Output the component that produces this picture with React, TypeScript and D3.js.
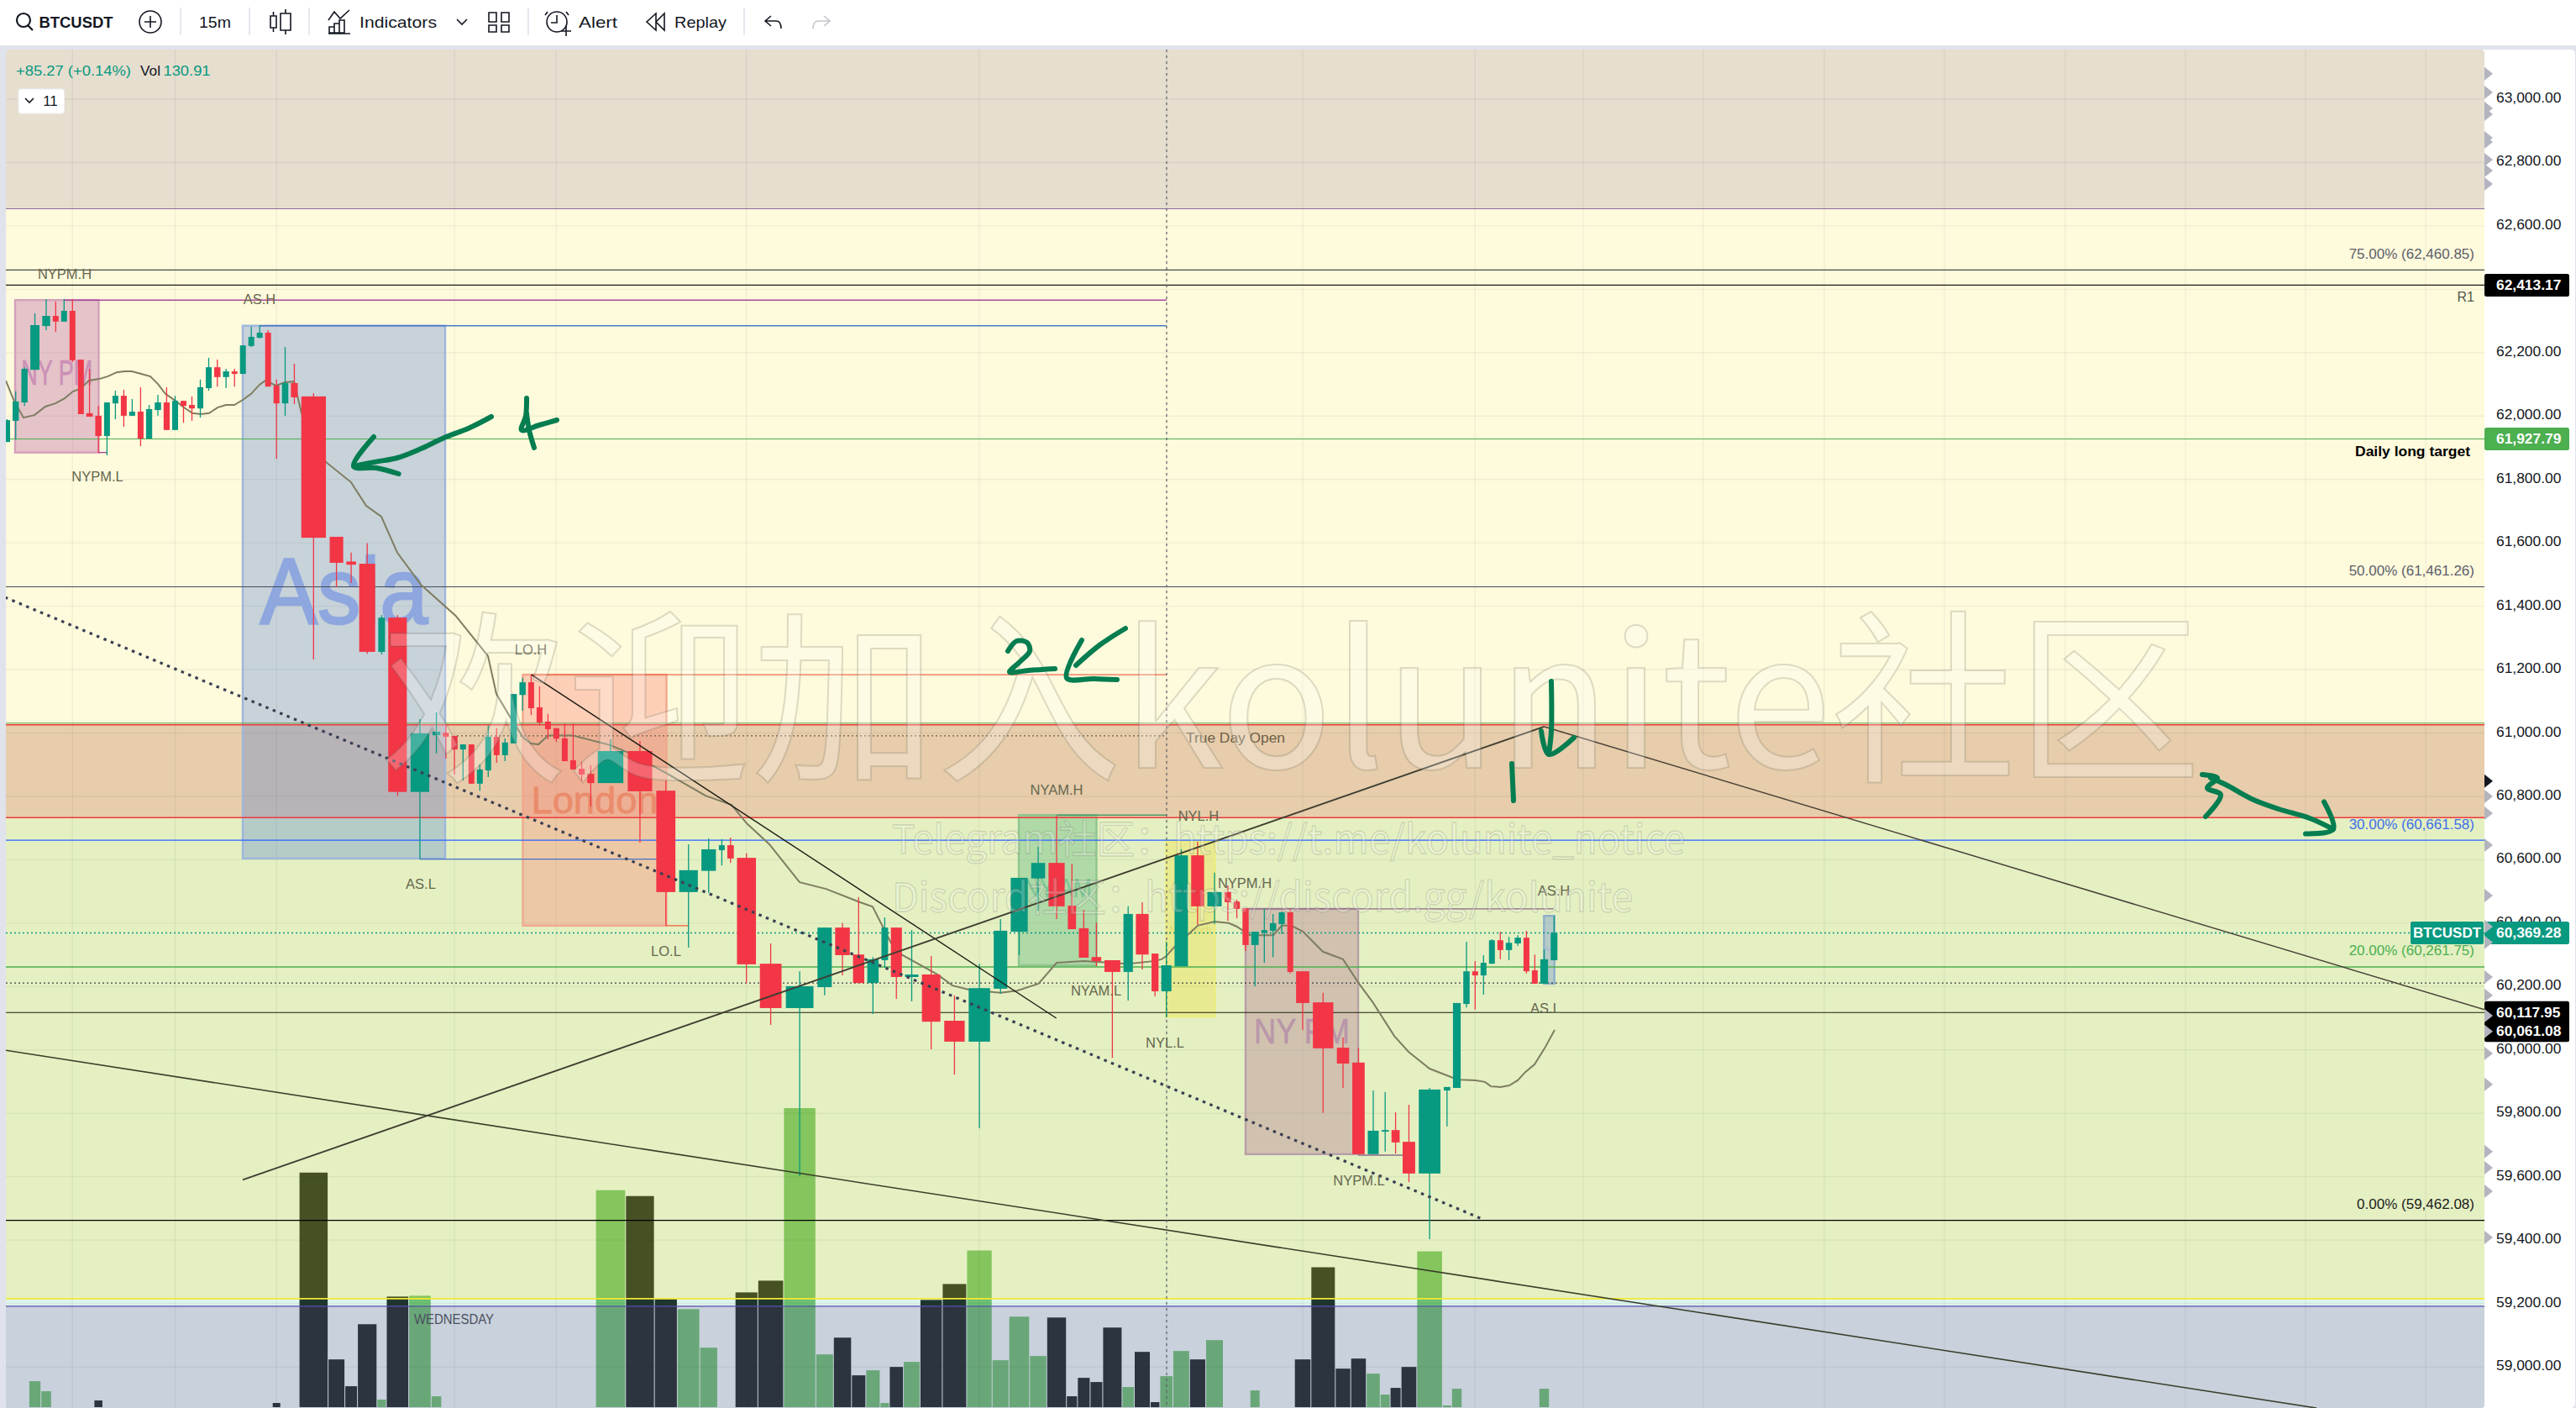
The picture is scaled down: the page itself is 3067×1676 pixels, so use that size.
import * as d3 from 'd3';

// one candle per traded volume slot, 15m BTCUSDT
const opens = [
  61918, 61985, 62043, 62146, 62284, 62316, 62298, 62332, 62178, 62009,
  62001, 61937, 62040, 62064, 62001, 62014, 61929, 62019, 62043, 61956,
  62048, 62035, 62024, 62088, 62154, 62123, 62141, 62133, 62221, 62247,
  62263, 62096, 62040, 62104, 62062, 61619, 61541, 61534, 61256, 61364,
  60814, 60993, 61001, 60991, 60948, 60964, 60840, 60882, 60988, 60930,
  60967, 61120, 61160, 61081, 61036, 61015, 60983, 60914, 60887, 60871,
  60842, 60943, 60818, 60498, 60565, 60630, 60646, 60606, 60272, 60132,
  60198, 60386, 60301, 60211, 60283, 60386, 60230, 60238, 60092, 60026,
  60193, 60373, 60541, 60590, 60455, 60384, 60293, 60283, 60246, 60429,
  60304, 60185, 60264, 60614, 60453, 60498, 60468, 60447, 60331, 60370,
  60376, 60397, 60434, 60248, 60150, 60007, 59960, 59671, 59742, 59747,
  59710, 59610, 59872, 59880, 60145, 60248, 60235, 60272, 60346, 60315,
  60336, 60354, 60251, 60209, 60283,
];
const highs = [
  61990, 62078, 62154, 62324, 62369, 62361, 62369, 62369, 62178, 62149,
  62032, 62043, 62080, 62083, 62054, 62091, 62035, 62067, 62091, 62064,
  62048, 62062, 62115, 62184, 62178, 62149, 62149, 62223, 62282, 62287,
  62271, 62115, 62218, 62165, 62072, 61619, 61569, 61599, 61372, 61372,
  61044, 61065, 61025, 60991, 60964, 60964, 60901, 61023, 61015, 60983,
  61123, 61174, 61184, 61147, 61060, 61015, 61030, 61030, 60909, 60898,
  60980, 60975, 60850, 60649, 60667, 60665, 60670, 60620, 60336, 60248,
  60386, 60400, 60482, 60293, 60418, 60386, 60378, 60296, 60172, 60272,
  60413, 60543, 60641, 60739, 60588, 60442, 60402, 60283, 60453, 60466,
  60304, 60341, 60633, 60657, 60559, 60519, 60474, 60447, 60373, 60445,
  60429, 60437, 60445, 60248, 60180, 60039, 60007, 59872, 59867, 59803,
  59827, 59880, 59883, 60148, 60341, 60280, 60299, 60349, 60373, 60357,
  60362, 60376, 60301, 60317, 60423,
];
const lows = [
  61918, 61926, 62032, 62146, 62271, 62266, 62298, 62170, 62006, 61998,
  61884, 61876, 61990, 61966, 62001, 61905, 61929, 62001, 61956, 61956,
  61979, 61985, 61995, 62080, 62093, 62088, 62093, 62133, 62218, 62245,
  62093, 61865, 62001, 62038, 61232, 61460, 61473, 61250, 61248, 60802,
  60601, 60936, 60919, 60869, 60850, 60840, 60818, 60861, 60906, 60911,
  60967, 61070, 61057, 61025, 60980, 60972, 60911, 60885, 60848, 60769,
  60842, 60654, 60392, 60323, 60495, 60582, 60590, 60211, 60079, 59602,
  60172, 60235, 60211, 60113, 60259, 60161, 60153, 60002, 59922, 59753,
  60177, 60299, 60439, 60413, 60381, 60291, 60264, 59975, 60156, 60254,
  60169, 60103, 60264, 60394, 60397, 60407, 60415, 60312, 60201, 60275,
  60293, 60365, 60241, 60063, 59801, 59880, 59671, 59671, 59679, 59673,
  59583, 59403, 59758, 59880, 60134, 60127, 60174, 60272, 60286, 60283,
  60328, 60241, 60209, 60209, 60283,
];
const closes = [
  61987, 62046, 62149, 62287, 62316, 62298, 62332, 62176, 62006, 61998,
  61937, 62043, 62064, 62001, 62014, 61929, 62022, 62043, 61956, 62048,
  62032, 62024, 62091, 62154, 62123, 62141, 62133, 62223, 62250, 62263,
  62093, 62040, 62104, 62059, 61616, 61537, 61531, 61256, 61364, 60814,
  60999, 61004, 60988, 60948, 60964, 60840, 60885, 60988, 60930, 60970,
  61123, 61160, 61078, 61033, 61012, 60982, 60911, 60885, 60869, 60842,
  60943, 60816, 60498, 60567, 60633, 60646, 60604, 60270, 60132, 60201,
  60386, 60299, 60211, 60286, 60386, 60230, 60238, 60089, 60026, 60195,
  60376, 60543, 60590, 60453, 60381, 60291, 60280, 60246, 60429, 60301,
  60185, 60267, 60614, 60453, 60498, 60466, 60445, 60331, 60373, 60378,
  60400, 60434, 60246, 60148, 60005, 59957, 59671, 59745, 59747, 59708,
  59610, 59875, 59883, 60148, 60248, 60235, 60275, 60346, 60315, 60338,
  60354, 60248, 60209, 60286, 60369.28,
];
// time share of each candle (the chart is volume weighted, so candles differ in width)
const spans = [
  10, 10.4, 10.5, 14.3, 12.6, 10, 10, 10, 10, 10.6,
  10.5, 10, 10, 10, 10, 10, 10.3, 10.6, 10.2, 10,
  10, 10, 10, 10, 10.5, 10.3, 9.9, 10, 10, 10,
  10, 10, 10.6, 11.3, 34.5, 20, 15, 23.2, 11.2, 26.6,
  26.7, 12.5, 10, 10.5, 10, 10, 10, 10, 10, 10,
  10.6, 10.5, 10, 10, 10, 10, 10, 10, 10.2, 11.5,
  35.7, 34.3, 27.3, 26.7, 21.3, 10, 10.8, 27.1, 30.6, 38.4,
  21, 21.5, 17, 17.1, 11, 16.7, 19.8, 26.5, 29, 30.3,
  20, 24.6, 20.5, 23.4, 13.1, 15.1, 15, 23, 14.6, 19,
  11.4, 15.6, 19.8, 19.2, 21, 10.8, 10.5, 10.4, 12, 10.2,
  10.5, 10.3, 10, 19.6, 29, 18.4, 18.5, 16.6, 11.8, 13,
  18.7, 30.6, 10.9, 12.4, 10.6, 10, 10, 10, 10, 10.5,
  10.6, 10, 9.9, 12.4, 11.1,
];
const volumes = [
  0, 0, 0, 31, 19, 0, 0, 0, 0, 0,
  8, 0, 0, 0, 0, 0, 0, 0, 0, 0,
  0, 0, 0, 0, 0, 0, 0, 0, 0, 0,
  0, 5, 0, 0, 280, 57, 25, 99, 9, 132,
  133, 13, 0, 0, 0, 0, 0, 0, 0, 0,
  0, 0, 0, 0, 0, 0, 0, 0, 0, 0,
  259, 252, 129, 117, 71, 0, 0, 137, 151, 357,
  63, 83, 38, 44, 5, 48, 54, 128, 147, 187,
  56, 108, 61, 107, 13, 35, 30, 95, 24, 66,
  6, 37, 67, 57, 80, 0, 0, 0, 20, 0,
  0, 0, 0, 57, 167, 46, 58, 40, 15, 23,
  48, 186, 2, 22, 0, 0, 0, 0, 0, 0,
  0, 0, 0, 22, 0,
];

// moving average
const smaTimes = [
  7, 17, 28, 41, 54, 66, 77, 87, 95, 106, 118, 128, 139, 148, 157, 168, 179, 188, 197, 209,
  219, 229, 239, 249, 259, 269, 279, 289, 299, 309, 316, 329, 339, 350, 359, 388, 418, 436, 454, 473,
  501, 542.5, 581, 591, 607, 623, 632, 641, 652.5, 682, 726.4, 748, 793, 840, 871, 889, 916, 952, 983.5, 1022,
  1039, 1060.6, 1074.5, 1116, 1134, 1153.6, 1191, 1211, 1236.5, 1258, 1290, 1343, 1373, 1383, 1388.6, 1397.5, 1415, 1426, 1446, 1463,
  1472.6, 1488, 1516, 1526, 1537.7, 1551.5, 1575, 1599, 1617.5, 1634.5, 1660, 1677, 1702, 1730, 1739, 1757, 1768, 1775, 1786.4, 1797,
  1807, 1816, 1827, 1839, 1851,
];
const smaValues = [
  62112, 62046, 61995, 62003, 62030, 62040, 62056, 62078, 62085, 62112, 62117, 62125, 62138, 62141, 62141, 62133, 62125, 62101, 62070, 62048,
  62027, 62009, 62006, 62009, 62027, 62035, 62035, 62051, 62070, 62099, 62112, 62096, 62107, 62109, 62009, 61855, 61791, 61717, 61683, 61569,
  61468, 61370, 61243, 61123, 61052, 60985, 60967, 60964, 60992, 60992, 60962, 60938, 60874, 60802, 60773, 60715, 60649, 60529, 60508, 60468,
  60452, 60339, 60299, 60238, 60203, 60190, 60180, 60187, 60209, 60275, 60280, 60272, 60280, 60286, 60296, 60323, 60365, 60392, 60405, 60400,
  60389, 60362, 60362, 60392, 60392, 60373, 60310, 60286, 60211, 60150, 60044, 59994, 59941, 59912, 59906, 59904, 59899, 59885, 59883, 59888,
  59904, 59930, 59954, 60005, 60063,
];

const priceTicks = d3.range(59000, 63001, 200);
const futureGridTimes = [1885, 2028, 2172, 2315, 2459, 2602, 2745, 2888];
const sideMarks = [
  63080, 63021, 62971, 62952, 62878, 62865, 62809, 62775, 62732, 60800, 60747, 60646, 60487, 60389, 60339, 60230, 60172,
  60108, 60058, 59989, 59891, 59679, 59628, 59554, 59408,
];
const darkSideMark = 60848;

// bands from top to bottom
const bandEdges = [63300, 62654, 61026, 60733, 59215, 59191, 58800];

const levels: [number, string, number][] = [
  [62654, '#8a6ba0', 1],
  [62460.85, '#4a4a42', 1.1],
  [62413.17, '#1c1c10', 1.2],
  [61927.79, '#4caf50', 1.2],
  [61461.26, '#454a5e', 1.2],
  [61031, '#5d9c45', 1],
  [61026, '#ee3b3b', 1.4],
  [60733, '#ee3b3b', 1.6],
  [60661.58, '#2962ff', 1.4],
  [60261.75, '#4caf50', 1.4],
  [60117.95, '#1c1c10', 1.2],
  [59462.08, '#000000', 1.2],
  [59215, '#f7e92f', 1.6],
  [59191, '#5a4ea8', 1.3],
];
const lastPrice = 60369.28;
const dayOpenLevel = 60211;
const trueDayOpen = 60991;

const sessionNames = ['NY PM', 'Asia', 'London', 'NY AM', 'NY Lunch', 'NY PM', 'Asia'];
const sessionStarts = [18, 289, 622.5, 1213, 1388.4, 1483, 1838.3];
const sessionEnds = [117.5, 530, 793.5, 1305.5, 1446.5, 1617, 1850.7];
const sessionHighs = [62366, 62285, 61184, 60741, 60657, 60445, 60423];
const sessionLows = [61885, 60604, 60392, 60267, 60105, 59671, 60209];
const sessionLook = [
  { fill: 'rgba(189,112,172,.4)', stroke: '#d4a0bb', text: '#cc90b6', size: 42, base: 458, len: 85, heavy: 0.6 },
  { fill: 'rgba(73,120,213,.3)', stroke: '#9eb6dd', text: '#8ea7de', size: 112, base: 742, len: 200, heavy: 2.4 },
  { fill: 'rgba(255,110,100,.3)', stroke: '#f0a98c', text: '#ea8c6c', size: 44, base: 968, len: 151, heavy: 0.8 },
  { fill: 'rgba(77,174,117,.35)', stroke: '#8fc58f', text: '#7cc496', size: 32, base: 1068, len: 81, heavy: 0 },
  { fill: 'rgba(235,225,70,.4)', stroke: '#ecec80', text: '#dfdc6c', size: 15, base: 1112, len: 50, heavy: 0 },
  { fill: 'rgba(180,125,147,.4)', stroke: '#b89fa7', text: '#b996aa', size: 42, base: 1242, len: 114, heavy: 0.6 },
  { fill: 'rgba(73,120,213,.3)', stroke: '#8fb0c9', text: '#9db4dd', size: 7, base: 1132, len: 10, heavy: 0 },
];
const sessionLines: [number, number, number, string][] = [
  [77, 1389, 62366, '#a94a9c'],
  [117, 128, 61885, '#a94a9c'],
  [309, 1389, 62285, '#4a76c9'],
  [500, 793, 60602, '#4a76c9'],
  [632.5, 1389, 61184, '#f2694a'],
  [793, 820, 60392, '#f2694a'],
  [1258, 1389, 60741, '#4e9a68'],
  [1483, 1850, 60445, '#8d6a8a'],
  [1617, 1670, 59668, '#8d6a8a'],
];

const trendLines: [number, number, number, number, string, number][] = [
  [632.8, 61184, 1257.7, 60100, '#1c1c14', 1.4],
  [289, 59590, 1838.6, 61020, '#3f3d30', 1.9],
  [1838.6, 61020, 2958, 60127, '#4a4238', 1.5],
  [6, 59999, 2758, 58870, '#3a3f2a', 1.6],
];
const dottedTrend: [number, number, number, number] = [6, 61428, 1766, 59465];

const sessionTags: [string, number, number][] = [
  ['NYPM.H', 77, 325.5], ['AS.H', 309, 355.7], ['NYPM.L', 116, 567], ['LO.H', 632, 773], ['AS.L', 501, 1052],
  ['LO.L', 793, 1132], ['NYAM.H', 1258, 940], ['NYAM.L', 1305, 1179], ['NYL.H', 1427, 970.7], ['NYL.L', 1387, 1240.7],
  ['NYPM.H', 1482, 1050.7], ['NYPM.L', 1618, 1404.7], ['AS.H', 1850, 1060], ['AS.L', 1840, 1200],
];
const fibTags: [string, number, string][] = [
  ['75.00% (62,460.85)', 302.4, '#5d606b'],
  ['50.00% (61,461.26)', 679.6, '#5d606b'],
  ['30.00% (60,661.58)', 981.7, '#3f6fe8'],
  ['20.00% (60,261.75)', 1131.7, '#4caf50'],
  ['0.00% (59,462.08)', 1433.7, '#1c1c1c'],
];

// pen strokes drawn by hand over the chart
const penStrokes: [number, number][][] = [
  [[585, 496], [558.6, 509.5], [530, 520.6], [501.4, 534], [473, 545], [448, 549.6], [421, 555]],
  [[445, 520], [421, 555], [448, 557], [474.6, 564]],
  [[627, 474], [626, 495], [621, 512], [642, 506], [663, 500]],
  [[627, 492], [630, 512], [636, 533]],
  [[1200, 775], [1210.5, 763], [1223, 765], [1226, 775], [1214, 788], [1202, 800], [1224.6, 798], [1256, 796]],
  [[1340, 748], [1309, 768], [1281, 792]],
  [[1288, 762], [1270, 807], [1302, 808], [1330, 809]],
  [[1847, 811], [1847, 870], [1844, 898]],
  [[1835, 870], [1844, 898], [1874, 878]],
  [[1800, 909], [1802, 953]],
  [[2622, 922], [2640, 926], [2628, 938], [2644, 946], [2626, 972]],
  [[2632, 926], [2650, 934], [2683, 952], [2713, 963], [2750, 974], [2778, 987]],
  [[2767, 954.5], [2778, 987], [2745, 992.5]],
];

const UI = '"Liberation Sans", Arial, sans-serif';
const UP = '#089981';
const DOWN = '#f23645';
const PANE = { left: 7, top: 59, right: 2958, bottom: 1676 };

const y = d3.scaleLinear().domain([63000, 59000]).range([118, 1627]);
const x = d3.scaleLinear().domain([0, 3067]).range([0, 3067]);
const yVol = d3.scaleLinear().domain([0, 357]).range([1675, 1319]);
const edges = [3.5, ...d3.cumsum(spans).map(v => v + 3.5)];
const centers = spans.map((_, i) => (edges[i] + edges[i + 1]) / 2);
const gridBarTimes = [...centers.filter((_, i) => i % 12 === 7 && i < 117), ...futureGridTimes];
const smaPath = d3.line<number>().x((_, i) => x(smaTimes[i])).y(d => y(d)).curve(d3.curveLinear)(smaValues) ?? '';
const penPath = d3.line<[number, number]>().x(d => d[0]).y(d => d[1]).curve(d3.curveCatmullRom.alpha(0.5));
const priceFormat = d3.format(',.2f');

function Label({ x: px, y: py, size = 17, fill = '#131722', anchor = 'start', weight = 400, len, children }: any) {
  return (
    <text
      x={px}
      y={py}
      fontFamily={UI}
      fontSize={size}
      fill={fill}
      fontWeight={weight}
      textAnchor={anchor}
      dominantBaseline="central"
      {...(len ? { textLength: len, lengthAdjust: 'spacingAndGlyphs' } : {})}
    >
      {children}
    </text>
  );
}

function Toolbar() {
  const ink = { fill: 'none', stroke: '#131722', strokeWidth: 1.6 };
  return (
    <g>
      <rect x={0} y={0} width={3067} height={54} fill="#fff" />
      <circle cx={28} cy={24} r={8} {...ink} strokeWidth={2.2} />
      <line x1={33} y1={30} x2={39} y2={36} {...ink} strokeWidth={2.2} />
      <Label x={46.5} y={26} size={19} weight={700} len={88}>BTCUSDT</Label>
      <circle cx={179} cy={26} r={13} {...ink} />
      <path d="M172 26H186M179 19V33" {...ink} />
      {[215, 297, 368, 629, 886].map(v => (
        <line key={v} x1={v} x2={v} y1={9} y2={42} stroke="#e0e3eb" strokeWidth={1.6} />
      ))}
      <Label x={237} y={26} size={19} len={38}>15m</Label>
      <path d="M322 19H329V33H322ZM334 16H346V36H334ZM340 11V16M340 36V41M325.5 14V19M325.5 33V38" {...ink} />
      <path d="M391 24L398 14L405 22L416 12M392 39V32H398V39ZM398 39V28H404V39ZM404 39V24H410V39ZM391 40H417" {...ink} />
      <Label x={428} y={26} size={19} len={92}>Indicators</Label>
      <path d="M544 23L550 29L556 23" {...ink} />
      <path d="M582 15h9v11h-9zM597 15h9v11h-9zM582 30h9v8h-9zM597 30h9v8h-9z" {...ink} />
      <circle cx={663} cy={26} r={12} {...ink} />
      <path d="M663 18V27H656M652 14L649 18M674 14L677 18M668 37H680M674 31V43" {...ink} />
      <Label x={689} y={26} size={19} len={46}>Alert</Label>
      <path d="M781 16L770 26L781 36ZM791 16L781 26L791 36Z" {...ink} />
      <Label x={803} y={26} size={19} len={62}>Replay</Label>
      <path d="M918 19L911 25L918 31M911 25H924Q930 25 930 34" {...ink} />
      <path d="M981 19L988 25L981 31M988 25H975Q968 25 968 34" {...ink} stroke="#c3c5cc" />
    </g>
  );
}

export default function App() {
  const bandFills = ['#e6decf', '#fefadc', '#e7cdab'];
  return (
    <svg width={3067} height={1676} style={{ display: 'block' }} xmlns="http://www.w3.org/2000/svg">
      <style>{'body{margin:0}'}</style>
      <defs>
        <clipPath id="pane">
          <rect x={PANE.left} y={PANE.top} width={PANE.right - PANE.left} height={PANE.bottom - PANE.top} rx={4} />
        </clipPath>
      </defs>
      <rect width={3067} height={1676} fill="#e0e3eb" />
      <Toolbar />
      <rect x={PANE.left} y={PANE.top} width={3066 - PANE.left} height={PANE.bottom - PANE.top} rx={5} fill="#fff" />

      <g clipPath="url(#pane)">
        {bandFills.map((c, i) => (
          <rect key={c} x={PANE.left} width={PANE.right - PANE.left} y={y(bandEdges[i])} height={y(bandEdges[i + 1]) - y(bandEdges[i])} fill={c} />
        ))}

        {/* volume sits under the lower tint bands */}
        {volumes.map((v, i) =>
          v > 0 ? (
            <rect
              key={i}
              x={x(edges[i]) + 0.5}
              width={x(edges[i + 1]) - x(edges[i]) - 1}
              y={yVol(v)}
              height={yVol(0) - yVol(v)}
              fill={closes[i] >= opens[i] ? '#66bb5d' : '#000'}
            />
          ) : null,
        )}
        <rect x={PANE.left} width={PANE.right - PANE.left} y={y(bandEdges[3])} height={y(bandEdges[4]) - y(bandEdges[3])} fill="rgb(182,214,92)" fillOpacity={0.375} />
        <rect x={PANE.left} width={PANE.right - PANE.left} y={y(bandEdges[4])} height={y(bandEdges[5]) - y(bandEdges[4])} fill="rgb(124,212,184)" fillOpacity={0.25} />
        <rect x={PANE.left} width={PANE.right - PANE.left} y={y(bandEdges[5])} height={y(bandEdges[6]) - y(bandEdges[5])} fill="rgb(112,135,163)" fillOpacity={0.385} />

        {/* grid */}
        {priceTicks.map(p => (
          <line key={p} x1={PANE.left} x2={PANE.right} y1={y(p)} y2={y(p)} stroke="rgba(42,46,57,.06)" strokeWidth={1.4} />
        ))}
        {gridBarTimes.map(t => (
          <line key={t} x1={x(t)} x2={x(t)} y1={PANE.top} y2={PANE.bottom} stroke="rgba(42,46,57,.06)" strokeWidth={1.4} />
        ))}

        {/* session boxes */}
        {sessionNames.map((name, i) => {
          const look = sessionLook[i];
          const x0 = x(sessionStarts[i]);
          const x1 = x(sessionEnds[i]);
          return (
            <g key={i}>
              <rect
                x={x0}
                y={y(sessionHighs[i])}
                width={x1 - x0}
                height={y(sessionLows[i]) - y(sessionHighs[i])}
                fill={look.fill}
                stroke={look.stroke}
                strokeWidth={2.4}
              />
              <text
                x={(x0 + x1) / 2}
                y={look.base}
                textAnchor="middle"
                fontFamily={UI}
                fontSize={look.size}
                fill={look.text}
                stroke={look.text}
                strokeWidth={look.heavy}
                textLength={look.len}
                lengthAdjust="spacingAndGlyphs"
              >
                {name}
              </text>
            </g>
          );
        })}
        {sessionLines.map(([a, b, p, c], i) => (
          <line key={i} x1={x(a)} x2={x(b)} y1={y(p)} y2={y(p)} stroke={c} strokeWidth={1.4} />
        ))}

        {/* levels */}
        {levels.map(([p, c, w]) => (
          <line key={p} x1={PANE.left} x2={PANE.right} y1={y(p)} y2={y(p)} stroke={c} strokeWidth={w} />
        ))}
        <line x1={PANE.left} x2={PANE.right} y1={y(lastPrice)} y2={y(lastPrice)} stroke={UP} strokeWidth={1.6} strokeDasharray="2 3" />
        <line x1={PANE.left} x2={PANE.right} y1={y(dayOpenLevel)} y2={y(dayOpenLevel)} stroke="#3a3f4a" strokeWidth={1.4} strokeDasharray="2 3" />
        <line x1={x(544)} x2={x(1389)} y1={y(trueDayOpen)} y2={y(trueDayOpen)} stroke="#6d5c48" strokeWidth={1.2} strokeDasharray="2 3" />
        <line x1={x(1389)} x2={x(1389)} y1={PANE.top} y2={PANE.bottom} stroke="#5d606b" strokeWidth={1.2} strokeDasharray="3 4" />

        <path d={smaPath} fill="none" stroke="#7e7d60" strokeWidth={2} />

        {/* candles */}
        {opens.map((o, i) => {
          const c = closes[i];
          const color = c >= o ? UP : DOWN;
          const top = y(Math.max(o, c));
          const bottom = y(Math.min(o, c));
          const w = spans[i] * 0.91 - 2.1;
          return (
            <g key={i}>
              <line x1={x(centers[i])} x2={x(centers[i])} y1={y(highs[i])} y2={y(lows[i])} stroke={color} strokeWidth={1.3} />
              <rect x={x(centers[i]) - w / 2} y={top} width={w} height={Math.max(bottom - top, 1.6)} fill={color} />
            </g>
          );
        })}

        {/* trend lines */}
        <line
          x1={x(dottedTrend[0])}
          y1={y(dottedTrend[1])}
          x2={x(dottedTrend[2])}
          y2={y(dottedTrend[3])}
          stroke="#3b3f52"
          strokeWidth={3.2}
          strokeDasharray="3.5 5.6"
        />
        {trendLines.map(([a, p, b, q, c, w], i) => (
          <line key={i} x1={x(a)} y1={y(p)} x2={x(b)} y2={y(q)} stroke={c} strokeWidth={w} />
        ))}

        {/* drawing labels */}
        {sessionTags.map(([t, cx, cy], i) => (
          <Label key={i} x={cx} y={cy} size={16.5} fill="#66664e" anchor="middle">{t}</Label>
        ))}
        <Label x={1412} y={877.7} size={16.5} fill="#6d6048" len={118}>True Day Open</Label>
        <Label x={493} y={1570} size={16} fill="#4b5060" len={95}>WEDNESDAY</Label>
        <Label x={2946} y={353} size={16} fill="#55554a" anchor="end">R1</Label>
        <Label x={2941} y={537} size={16.5} fill="#000" weight={700} anchor="end" len={137}>Daily long target</Label>
        {fibTags.map(([t, cy, c]) => (
          <Label key={t} x={2946} y={cy} size={17} fill={c} anchor="end">{t}</Label>
        ))}

        {/* exchange watermark */}
        <g fontFamily='"Noto Sans CJK SC", sans-serif' fill="rgba(255,255,255,.24)" stroke="rgba(90,90,70,.2)" strokeWidth={2}>
          <text x={454} y={914} fontSize={220} textLength={2167} lengthAdjust="spacingAndGlyphs">欢迎加入kolunite社区</text>
          <text x={1062} y={1015.5} fontSize={47} textLength={944} lengthAdjust="spacingAndGlyphs" strokeWidth={1.3}>Telegram社区：https://t.me/kolunite_notice</text>
          <text x={1062} y={1085} fontSize={47} textLength={882} lengthAdjust="spacingAndGlyphs" strokeWidth={1.3}>Discord社区：https://discord.gg/kolunite</text>
        </g>

        {/* pen annotations */}
        {penStrokes.map((s, i) => (
          <path key={i} d={penPath(s) ?? ''} fill="none" stroke="#047d50" strokeWidth={6} strokeLinecap="round" strokeLinejoin="round" />
        ))}
      </g>

      {/* legend */}
      <Label x={19} y={84.6} size={17} fill={UP} len={137}>+85.27 (+0.14%)</Label>
      <Label x={167} y={84.6} size={17} len={24}>Vol</Label>
      <Label x={194.5} y={84.6} size={17} fill={UP} len={56}>130.91</Label>
      <rect x={22} y={106} width={54.5} height={29} rx={3} fill="#fff" stroke="#eceef2" />
      <path d="M30 117L35 122L40 117" fill="none" stroke="#131722" strokeWidth={1.6} />
      <Label x={60} y={120.5} size={17} anchor="middle">11</Label>

      {/* price scale */}
      {priceTicks.map(p => (
        <Label key={p} x={2972} y={y(p) - 2} size={17.4}>{priceFormat(p)}</Label>
      ))}
      {[[62413.17, '#000'], [61927.79, '#4caf50'], [lastPrice, UP], [60117.95, '#000'], [60061.08, '#000']].map(([p, c]) => (
        <g key={p as number}>
          <rect x={PANE.right} y={y(p as number) - 13.5} width={101} height={27} rx={2.5} fill={c as string} />
          <Label x={2972} y={y(p as number)} size={17.4} fill="#fff" weight={700}>{priceFormat(p as number)}</Label>
        </g>
      ))}
      <rect x={2870} y={y(lastPrice) - 13.5} width={87} height={27} rx={2} fill={UP} />
      <Label x={2913.5} y={y(lastPrice)} size={17} fill="#fff" weight={700} anchor="middle">BTCUSDT</Label>
      {sideMarks.map(p => (
        <path key={p} d={`M${PANE.right} ${y(p) - 8}L${PANE.right + 10} ${y(p)}L${PANE.right} ${y(p) + 8}Z`} fill="#b2b5be" />
      ))}
      <path d={`M${PANE.right} ${y(darkSideMark) - 8}L${PANE.right + 10} ${y(darkSideMark)}L${PANE.right} ${y(darkSideMark) + 8}Z`} fill="#131722" />
    </svg>
  );
}
